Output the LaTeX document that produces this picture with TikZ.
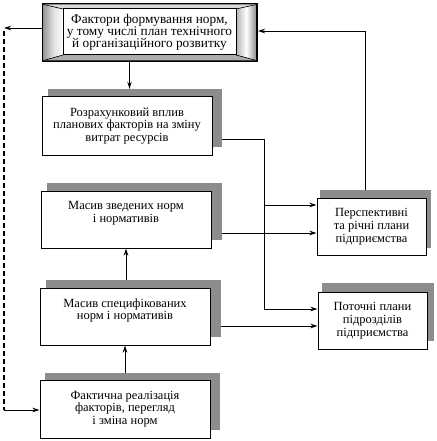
\documentclass[tikz,border=0pt]{standalone}
\usepackage{fontspec}
\setmainfont{Liberation Serif}
\usetikzlibrary{arrows.meta,calc}
\definecolor{shd}{rgb}{0.55,0.55,0.55}
\tikzset{
  box/.style={draw=black,line width=1pt,fill=white,align=center,inner sep=0pt,
    font=\fontsize{12.5}{12.8}\selectfont},
  shadowbox/.style={fill=shd,draw=none,inner sep=0pt},
  conn/.style={line width=0.9pt},
  arr/.style={conn,-{Stealth[length=7pt,width=4.5pt]}},
  dashline/.style={line width=1.6pt,dash pattern=on 5pt off 3pt},
}
\begin{document}
\begin{tikzpicture}[x=1pt,y=-1pt]
\useasboundingbox (0,0) rectangle (436,441);
% ---- top bevel box ----
\fill[black] (42,3) rectangle (258,62);
\shade[left color=gray!80,right color=white,middle color=gray!25] (43.5,4.5) -- (63,9) -- (63,55) -- (43.5,60.5) -- cycle;
\shade[left color=gray!60,right color=gray!90,middle color=white] (256.5,4.5) -- (236,9) -- (236,55) -- (256.5,60.5) -- cycle;
\fill[gray!30] (43.5,4.5) -- (256.5,4.5) -- (236,9) -- (63,9) -- cycle;
\fill[gray!65] (43.5,60.5) -- (256.5,60.5) -- (236,55) -- (63,55) -- cycle;
\draw[line width=0.6pt] (43.5,4.5) -- (63,9) (256.5,4.5) -- (236,9) (43.5,60.5) -- (63,55) (256.5,60.5) -- (236,55);
\node[box,minimum width=173pt,minimum height=46pt,font=\fontsize{13.3}{12}\selectfont] (top) at (149.5,32)
  {Фактори формування норм,\\у тому числі план технічного\\й організаційного розвитку};
\coordinate (topW) at (42,28);
\coordinate (topE) at (258,31);
% ---- shadows ----
\node[shadowbox,minimum width=174pt,minimum height=58pt] (b2s) at (135,118) {};
\node[shadowbox,minimum width=175pt,minimum height=57pt] (b3s) at (134.5,211.5) {};
\node[shadowbox,minimum width=175pt,minimum height=57pt] (b4s) at (133.5,308.5) {};
\node[shadowbox,minimum width=175pt,minimum height=57pt] (b5s) at (132.5,401.5) {};
\node[shadowbox,minimum width=111pt,minimum height=58pt] (ps) at (375.5,219) {};
\node[shadowbox,minimum width=112pt,minimum height=58pt] (cs) at (378,312) {};
% ---- boxes ----
\node[box,minimum width=170pt,minimum height=58pt] (b2) at (127,126)
  {Розрахунковий вплив\\планових факторів на зміну\\витрат ресурсів};
\node[box,minimum width=170pt,minimum height=57pt] (b3) at (126,219.5)
  {Масив зведених норм\\і нормативів\\[2pt]};
\node[box,minimum width=170pt,minimum height=57pt] (b4) at (125,316.5)
  {Масив специфікованих\\норм і нормативів\\[2pt]};
\node[box,minimum width=170pt,minimum height=58pt] (b5) at (125,409)
  {Фактична реалізація\\факторів, перегляд\\і зміна норм};
\node[box,minimum width=109pt,minimum height=57pt] (p) at (371.5,226.5)
  {Перспективні\\та річні плани\\підприємства};
\node[box,minimum width=109pt,minimum height=57pt] (c) at (372.5,320.5)
  {Поточні плани\\підрозділів\\підприємства};
% ---- connectors ----
\draw[arr] ([xshift=-20pt]top.south |- 0,62) -- ([xshift=-20pt]top.south |- b2s.north);
\coordinate (v1) at (264,139);
\coordinate (v2) at (264,205);
\coordinate (v3) at (264,309);
\draw[conn] (b2s.east |- v1) -- (v1) -- (v3);
\draw[arr] (v3) -- (v3 -| c.west);
\draw[arr] (v2) -- (v2 -| p.west);
\draw[arr] (b3s.east |- 0,233) -- (p.west |- 0,233);
\draw[arr] (b4s.east |- 0,326) -- (c.west |- 0,326);
\draw[arr] (b3.south |- b4s.north) -- (b3.south);
\draw[arr] (b4.south |- b5s.north) -- (b4.south);
\coordinate (pu) at (365,31);
\draw[arr] (pu |- ps.north) -- (pu) -- (topE);
\coordinate (dl1) at (4,28);
\coordinate (dl2) at (4,410);
\draw[arr] (topW) -- (dl1);
\draw[dashline] (4,31) -- (dl2);
\draw[arr] (dl2) -- (dl2 -| b5.west);
\end{tikzpicture}
\end{document}
